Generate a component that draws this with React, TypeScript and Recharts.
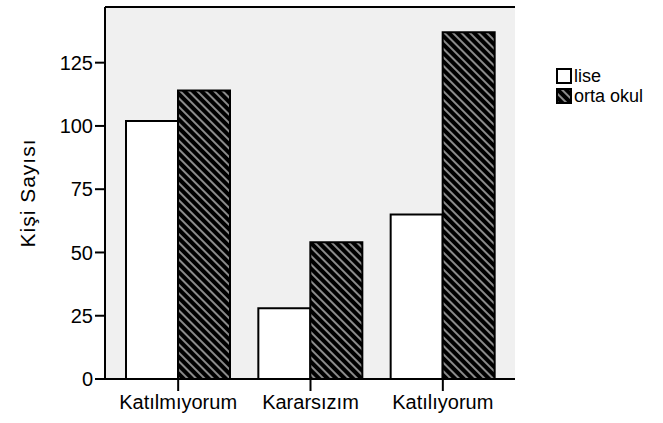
import React from 'react';
import { BarChart, Bar, XAxis, YAxis, CartesianGrid, ReferenceLine } from 'recharts';

const categories = ['Katılmıyorum', 'Kararsızım', 'Katılıyorum'];
const liseValues = [102, 28, 65];
const ortaOkulValues = [114, 54, 137];
const yTicks = [0, 25, 50, 75, 100, 125];
const yMax = 147;
const seriesNames = ['lise', 'orta okul'];
const yLabel = 'Kişi Sayısı';

const data = categories.map((c, i) => ({ name: c, lise: liseValues[i], orta: ortaOkulValues[i] }));

const FONT = '"Liberation Sans", Arial, sans-serif';

const HatchDefs = ({ id }: { id: string }) => (
  <defs>
    <pattern id={id} patternUnits="userSpaceOnUse" width={6} height={6} patternTransform="rotate(-45)">
      <rect x={0} y={0} width={6} height={6} fill="#000" />
      <line x1={3} y1={-1} x2={3} y2={7} stroke="#e8e8e8" strokeWidth={1.2} />
    </pattern>
  </defs>
);

const LegendBox = () => (
  <div style={{ position: 'absolute', left: 556, top: 66, fontFamily: FONT, fontSize: 18, color: '#000' }}>
    {seriesNames.map((n, i) => (
      <div key={n} style={{ display: 'flex', alignItems: 'center', height: 20, lineHeight: '20px' }}>
        <svg width={16} height={16} style={{ marginRight: 2 }}>
          <HatchDefs id={`lg${i}`} />
          <rect x={1} y={1} width={14} height={14} fill={i === 0 ? '#fff' : `url(#lg${i})`} stroke="#000" strokeWidth={2} />
        </svg>
        <span>{n}</span>
      </div>
    ))}
  </div>
);

export default function App() {
  return (
    <div style={{ position: 'absolute', left: 0, top: 0, width: 663, height: 423, background: '#fff' }}>
      <BarChart
        width={663}
        height={423}
        data={data}
        margin={{ top: 7, right: 148, bottom: 0, left: 0 }}
        barCategoryGap={14}
        barGap={0}
      >
        <HatchDefs id="hatch" />
        <CartesianGrid horizontal={false} vertical={false} fill="#f0f0f0" />
        <XAxis
          dataKey="name"
          height={44}
          padding={{ left: 7, right: 6 }}
          tickSize={12}
          tickMargin={4}
          axisLine={{ stroke: '#000', strokeWidth: 2 }}
          tickLine={{ stroke: '#000', strokeWidth: 2 }}
          tick={{ fontSize: 20, fill: '#000', fontFamily: FONT }}
        />
        <YAxis
          width={105}
          domain={[0, yMax]}
          ticks={yTicks}
          tickSize={10}
          tickMargin={2}
          axisLine={{ stroke: '#000', strokeWidth: 2 }}
          tickLine={{ stroke: '#000', strokeWidth: 2 }}
          tick={{ fontSize: 20, fill: '#000', fontFamily: FONT }}
          label={{
            value: yLabel,
            angle: -90,
            position: 'insideLeft',
            offset: 28,
            style: { textAnchor: 'middle', fontSize: 21, letterSpacing: 1, fill: '#000', fontFamily: FONT },
          }}
        />
        <YAxis
          yAxisId="right"
          orientation="right"
          width={0}
          domain={[0, yMax]}
          tick={false}
          tickLine={false}
          axisLine={{ stroke: '#000', strokeWidth: 2 }}
        />
        <ReferenceLine y={yMax} stroke="#000" strokeWidth={2} />
        <Bar dataKey="lise" name={seriesNames[0]} fill="#fff" stroke="#000" strokeWidth={2} isAnimationActive={false} />
        <Bar dataKey="orta" name={seriesNames[1]} fill="url(#hatch)" stroke="#000" strokeWidth={2} isAnimationActive={false} />
      </BarChart>
      <LegendBox />
    </div>
  );
}
